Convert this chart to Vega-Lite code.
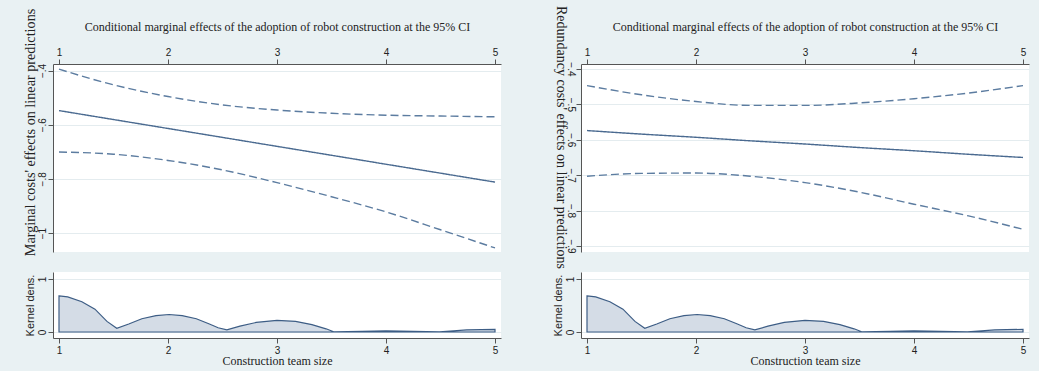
{
  "$schema": "https://vega.github.io/schema/vega-lite/v6.json",
  "background": "#e9f1f3",
  "padding": {"left": 22, "top": 5, "right": 10, "bottom": 5},
  "datasets": {
    "leftCI": [
      {"x": 1, "series": "est", "v": -0.548}, {"x": 1, "series": "lo", "v": -0.701}, {"x": 1, "series": "hi", "v": -0.395},
      {"x": 1.5, "series": "est", "v": -0.581}, {"x": 1.5, "series": "lo", "v": -0.709}, {"x": 1.5, "series": "hi", "v": -0.453},
      {"x": 2, "series": "est", "v": -0.614}, {"x": 2, "series": "lo", "v": -0.732}, {"x": 2, "series": "hi", "v": -0.496},
      {"x": 2.5, "series": "est", "v": -0.647}, {"x": 2.5, "series": "lo", "v": -0.767}, {"x": 2.5, "series": "hi", "v": -0.527},
      {"x": 3, "series": "est", "v": -0.68}, {"x": 3, "series": "lo", "v": -0.814}, {"x": 3, "series": "hi", "v": -0.546},
      {"x": 3.5, "series": "est", "v": -0.713}, {"x": 3.5, "series": "lo", "v": -0.866}, {"x": 3.5, "series": "hi", "v": -0.558},
      {"x": 4, "series": "est", "v": -0.746}, {"x": 4, "series": "lo", "v": -0.922}, {"x": 4, "series": "hi", "v": -0.565},
      {"x": 4.5, "series": "est", "v": -0.779}, {"x": 4.5, "series": "lo", "v": -0.988}, {"x": 4.5, "series": "hi", "v": -0.568},
      {"x": 5, "series": "est", "v": -0.812}, {"x": 5, "series": "lo", "v": -1.055}, {"x": 5, "series": "hi", "v": -0.571}
    ],
    "rightCI": [
      {"x": 1, "series": "est", "v": -0.574}, {"x": 1, "series": "lo", "v": -0.703}, {"x": 1, "series": "hi", "v": -0.447},
      {"x": 1.5, "series": "est", "v": -0.584}, {"x": 1.5, "series": "lo", "v": -0.695}, {"x": 1.5, "series": "hi", "v": -0.473},
      {"x": 2, "series": "est", "v": -0.593}, {"x": 2, "series": "lo", "v": -0.694}, {"x": 2, "series": "hi", "v": -0.492},
      {"x": 2.5, "series": "est", "v": -0.603}, {"x": 2.5, "series": "lo", "v": -0.703}, {"x": 2.5, "series": "hi", "v": -0.503},
      {"x": 3, "series": "est", "v": -0.612}, {"x": 3, "series": "lo", "v": -0.721}, {"x": 3, "series": "hi", "v": -0.503},
      {"x": 3.5, "series": "est", "v": -0.622}, {"x": 3.5, "series": "lo", "v": -0.748}, {"x": 3.5, "series": "hi", "v": -0.496},
      {"x": 4, "series": "est", "v": -0.631}, {"x": 4, "series": "lo", "v": -0.782}, {"x": 4, "series": "hi", "v": -0.484},
      {"x": 4.5, "series": "est", "v": -0.641}, {"x": 4.5, "series": "lo", "v": -0.815}, {"x": 4.5, "series": "hi", "v": -0.468},
      {"x": 5, "series": "est", "v": -0.65}, {"x": 5, "series": "lo", "v": -0.853}, {"x": 5, "series": "hi", "v": -0.447}
    ],
    "kdens": [
      {"x": 1.0, "d": 0.68}, {"x": 1.08, "d": 0.66}, {"x": 1.21, "d": 0.57}, {"x": 1.33, "d": 0.43},
      {"x": 1.44, "d": 0.2}, {"x": 1.53, "d": 0.07}, {"x": 1.64, "d": 0.15}, {"x": 1.76, "d": 0.25},
      {"x": 1.89, "d": 0.31}, {"x": 2.01, "d": 0.33}, {"x": 2.13, "d": 0.31}, {"x": 2.26, "d": 0.25},
      {"x": 2.38, "d": 0.15}, {"x": 2.46, "d": 0.08}, {"x": 2.54, "d": 0.04}, {"x": 2.66, "d": 0.11},
      {"x": 2.81, "d": 0.18}, {"x": 3.0, "d": 0.22}, {"x": 3.17, "d": 0.2}, {"x": 3.32, "d": 0.14},
      {"x": 3.45, "d": 0.06}, {"x": 3.52, "d": 0.005}, {"x": 3.78, "d": 0.013}, {"x": 4.0, "d": 0.02},
      {"x": 4.25, "d": 0.013}, {"x": 4.49, "d": 0.003}, {"x": 4.62, "d": 0.02}, {"x": 4.74, "d": 0.04},
      {"x": 5.0, "d": 0.05}
    ]
  },
  "config": {
    "view": {"stroke": null, "fill": "white"},
    "axis": {
      "labelFont": "Liberation Sans", "labelFontSize": 10, "labelColor": "#222",
      "titleFont": "Liberation Serif", "titleFontSize": 12, "titleColor": "#222", "titleFontWeight": "normal",
      "domainColor": "#555", "tickColor": "#555", "gridColor": "#e4ecef", "tickSize": 5
    }
  },
  "bounds": "flush",
  "columns": 2,
  "spacing": {"row": 20, "column": 80},
  "resolve": {"scale": {"x": "independent", "y": "independent"}},
  "concat": [
    {
      "width": 448, "height": 188,
      "data": {"name": "leftCI"},
      "mark": {"type": "line", "strokeWidth": 1.4, "interpolate": "monotone"},
      "encoding": {
        "x": {"field": "x", "type": "quantitative", "scale": {"domain": [0.945, 5.055], "nice": false, "zero": false},
          "axis": {"orient": "top", "values": [1, 2, 3, 4, 5], "format": "d", "grid": false, "labelPadding": 2, "titlePadding": 14,
            "title": "Conditional marginal effects of the adoption of robot construction at the 95% CI"}},
        "y": {"field": "v", "type": "quantitative", "scale": {"domain": [-1.07, -0.376], "nice": false, "zero": false},
          "axis": {"orient": "left", "values": [-1, -0.8, -0.6, -0.4], "labelExpr": "replace(format(datum.value, '~g'), '0.', '.')",
            "labelAngle": 270, "grid": true, "labelPadding": 1, "titlePadding": 0, "titleY": 68, "titleFontSize": 14.2,
            "title": "Marginal costs' effects on linear predictions"}},
        "detail": {"field": "series"},
        "color": {"field": "series", "type": "nominal", "legend": null,
          "scale": {"domain": ["est", "lo", "hi"], "range": ["#4a6a90", "#5c7ca0", "#5c7ca0"]}},
        "strokeDash": {"field": "series", "type": "nominal", "legend": null,
          "scale": {"domain": ["est", "lo", "hi"], "range": [[1, 0], [8, 4], [8, 4]]}}
      }
    },
    {
      "width": 448, "height": 188,
      "data": {"name": "rightCI"},
      "mark": {"type": "line", "strokeWidth": 1.4, "interpolate": "monotone"},
      "encoding": {
        "x": {"field": "x", "type": "quantitative", "scale": {"domain": [0.945, 5.055], "nice": false, "zero": false},
          "axis": {"orient": "top", "values": [1, 2, 3, 4, 5], "format": "d", "grid": false, "labelPadding": 2, "titlePadding": 14,
            "title": "Conditional marginal effects of the adoption of robot construction at the 95% CI"}},
        "y": {"field": "v", "type": "quantitative", "scale": {"domain": [-0.917, -0.386], "nice": false, "zero": false},
          "axis": {"orient": "left", "values": [-0.9, -0.8, -0.7, -0.6, -0.5, -0.4], "labelExpr": "replace(format(datum.value, '~g'), '0.', '.')",
            "labelAngle": 90, "labelBaseline": "top", "labelAlign": "center",
            "titleAngle": 90, "titleBaseline": "top", "titleFontSize": 14,
            "grid": true, "labelPadding": 1, "titlePadding": -2, "titleY": 73,
            "title": "Redundancy costs' effects on linear predictions"}},
        "detail": {"field": "series"},
        "color": {"field": "series", "type": "nominal", "legend": null,
          "scale": {"domain": ["est", "lo", "hi"], "range": ["#4a6a90", "#5c7ca0", "#5c7ca0"]}},
        "strokeDash": {"field": "series", "type": "nominal", "legend": null,
          "scale": {"domain": ["est", "lo", "hi"], "range": [[1, 0], [8, 4], [8, 4]]}}
      }
    },
    {
      "width": 448, "height": 66,
      "data": {"name": "kdens"},
      "mark": {"type": "area", "fill": "#d4dce6", "stroke": "#3d5d85", "strokeWidth": 1.2, "interpolate": "linear"},
      "encoding": {
        "x": {"field": "x", "type": "quantitative", "scale": {"domain": [0.945, 5.055], "nice": false, "zero": false},
          "axis": {"orient": "bottom", "values": [1, 2, 3, 4, 5], "format": "d", "grid": false, "labelPadding": 2, "titlePadding": 0,
            "title": "Construction team size"}},
        "y": {"field": "d", "type": "quantitative", "scale": {"domain": [-0.113, 1.13], "nice": false, "zero": false},
          "axis": {"orient": "left", "values": [0, 1], "format": "d", "labelAngle": 270, "grid": true, "labelPadding": 1, "titlePadding": 2,
            "title": "Kernel dens.", "titleFont": "Liberation Sans", "titleFontSize": 11}}
      }
    },
    {
      "width": 448, "height": 66,
      "data": {"name": "kdens"},
      "mark": {"type": "area", "fill": "#d4dce6", "stroke": "#3d5d85", "strokeWidth": 1.2, "interpolate": "linear"},
      "encoding": {
        "x": {"field": "x", "type": "quantitative", "scale": {"domain": [0.945, 5.055], "nice": false, "zero": false},
          "axis": {"orient": "bottom", "values": [1, 2, 3, 4, 5], "format": "d", "grid": false, "labelPadding": 2, "titlePadding": 0,
            "title": "Construction team size"}},
        "y": {"field": "d", "type": "quantitative", "scale": {"domain": [-0.113, 1.13], "nice": false, "zero": false},
          "axis": {"orient": "left", "values": [0, 1], "format": "d", "labelAngle": 270, "grid": true, "labelPadding": 1, "titlePadding": 2,
            "title": "Kernel dens.", "titleFont": "Liberation Sans", "titleFontSize": 11}}
      }
    }
  ]
}
